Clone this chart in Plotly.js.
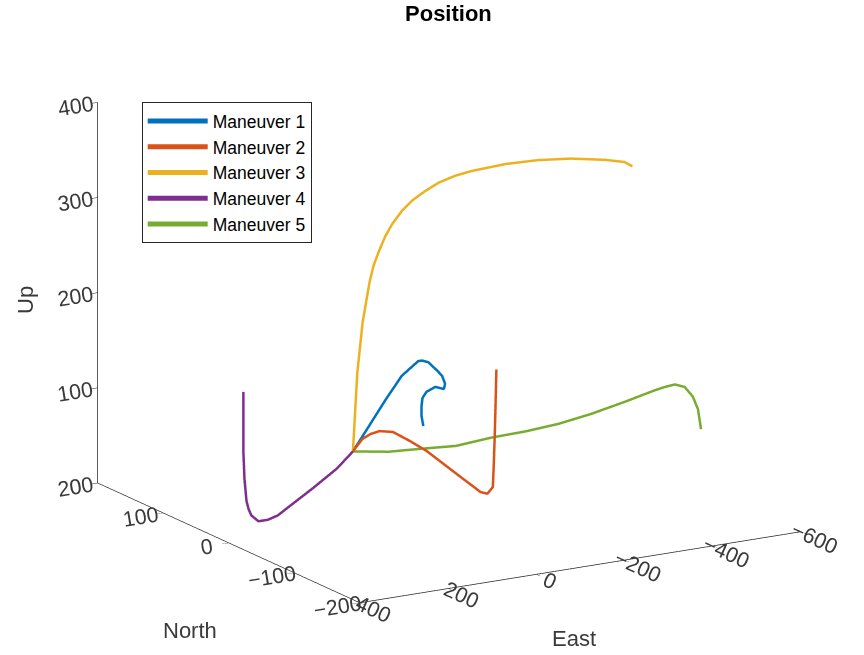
<!DOCTYPE html>
<html>
<head>
<meta charset="utf-8">
<script src="https://cdn.plot.ly/plotly-3.0.1.min.js"></script>
<style>html,body{margin:0;padding:0;background:#fff;}#chart{width:864px;height:655px;}</style>
</head>
<body>
<div id="chart"></div>
<script>
// Maneuver 1 (blue)
const m1East  = [0,-49,-100,-149,-200,-212,-230,-258,-269,-277,-273,-249,-223,-211,-206,-203,-204];
const m1North = [80,88,97,106,115,117,120,124,125,126,125,122,118,116,114,112,110];
const m1Up    = [41,62,83,101,110,109,105,92,86,77,72,77,75,70,63,53,43];
// Maneuver 2 (orange)
const m2East  = [0,-2,-3,-4,-6,-8,-10,-12,-14,-15,-16,-18,-20,-22,-24,-26,-28];
const m2North = [80,67,55,42,23,-2,-26,-50,-79,-92,-104,-113,-120,-120,-120,-120,-120];
const m2Up    = [41,58,67,74,79,77,74,68,61,58,55,56,65,87,115,149,188];
// Maneuver 3 (yellow)
const m3East  = [0,-5,-10,-22,-36,-44,-57,-69,-83,-102,-122,-147,-174,-204,-236,-301,-363,-427,-493,-532,-547];
const m3North = [80,80,80,80,79,78,78,77,76,74,72,69,66,62,58,50,42,35,28,24,22];
const m3Up    = [41,82,123,175,216,234,249,263,275,288,298,307,315,321,325,330,332,331,327,323,318];
// Maneuver 4 (purple)
const m4East  = [0,51,127,207,241,274,306,328,336,342,348,352,352,352];
const m4North = [80,70,55,40,32,25,18,14,13,12,11,10,10,10];
const m4Up    = [41,30,20,10,7,7,10,19,27,36,60,89,123,152];
// Maneuver 5 (green)
const m5East  = [0,-70,-133,-196,-262,-324,-382,-438,-494,-541,-548,-551,-551,-547,-544,-539];
const m5North = [80,72,64,55,45,35,24,12,-2,-16,-28,-40,-55,-70,-80,-88];
const m5Up    = [41,38,39,40,47,52,59,69,82,95,102,108,110,105,95,77];

const names = ['Maneuver 1','Maneuver 2','Maneuver 3','Maneuver 4','Maneuver 5'];
const colors = ['#0072BD','#D95319','#EDB120','#7E2F8E','#77AC30'];
const series = [[m1East,m1North,m1Up],[m2East,m2North,m2Up],[m3East,m3North,m3Up],[m4East,m4North,m4Up],[m5East,m5North,m5Up]];

const traces = series.map((s,i)=>({
  type:'scatter3d', mode:'lines', name:names[i],
  x:s[0], y:s[1], z:s[2],
  line:{color:colors[i], width:5}
}));

const FONT = 'Liberation Sans, Arial, Helvetica, sans-serif';
const axBase = {
  showbackground:false, showgrid:false, zeroline:false, showspikes:false,
  showline:true, linecolor:'#262626', linewidth:1.5,
  ticks:'inside', ticklen:8, tickcolor:'#262626',
  tickfont:{family:FONT, size:16, color:'#3a3a3a'},
  tickmode:'linear', title:{text:''}
};

const d = 1.215;
const k = 1.62;
const layout = {
  width:864, height:655,
  paper_bgcolor:'#fff',
  margin:{l:0,r:0,t:0,b:0},
  title:{text:'<b>Position</b>', x:0.519, xanchor:'center', y:0.979, yanchor:'middle', yref:'container',
         font:{family:FONT, size:22, color:'#000'}},
  showlegend:true,
  legend:{x:0.164, y:0.844, xanchor:'left', yanchor:'top', bgcolor:'#fff', itemwidth:60,
          bordercolor:'#262626', borderwidth:1, font:{family:FONT, size:17.5, color:'#000'}},
  annotations:[
    {text:'Up', xref:'paper', yref:'paper', x:25/864, y:1-300/655, xanchor:'center', yanchor:'middle',
     showarrow:false, textangle:-90, font:{family:FONT, size:22, color:'#3a3a3a'}},
    {text:'North', xref:'paper', yref:'paper', x:190/864, y:1-630/655, xanchor:'center', yanchor:'middle',
     showarrow:false, font:{family:FONT, size:22, color:'#3a3a3a'}},
    {text:'East', xref:'paper', yref:'paper', x:574/864, y:1-638/655, xanchor:'center', yanchor:'middle',
     showarrow:false, font:{family:FONT, size:22, color:'#3a3a3a'}}
  ],
  scene:{
    domain:{x:[0.04,1.0], y:[0.032,1.0]},
    aspectmode:'manual', aspectratio:{x:1*k, y:1*k, z:0.77*k},
    camera:{projection:{type:'orthographic'}, up:{x:0,y:0,z:1}, center:{x:0,y:0,z:0},
            eye:{x:-0.4915*d, y:-0.8276*d, z:0.2714*d}},
    xaxis:Object.assign({}, axBase, {range:[400,-600], dtick:200, tick0:0}),
    yaxis:Object.assign({}, axBase, {range:[-200,200], dtick:100, tick0:0}),
    zaxis:Object.assign({}, axBase, {range:[0,400], dtick:100, tick0:0})
  }
};

Plotly.newPlot('chart', traces, layout, {displayModeBar:false});
</script>
</body>
</html>
